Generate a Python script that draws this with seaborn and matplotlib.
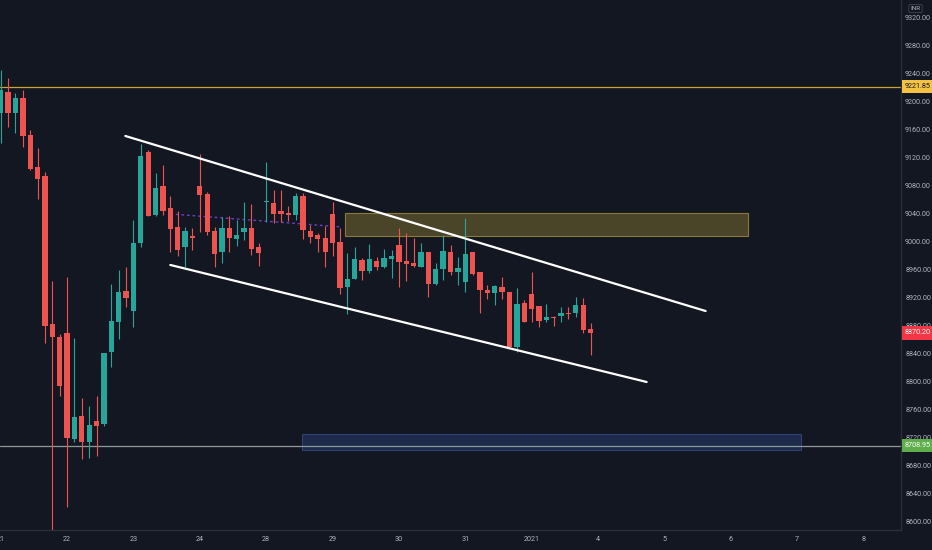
import numpy as np
import pandas as pd
import matplotlib
matplotlib.use("Agg")
import matplotlib.pyplot as plt
import matplotlib.transforms as mtransforms
from matplotlib.patches import Rectangle
import seaborn as sns

# ─────────────────────────────────────────────
# Data (45-min bars, 9 bars per session)
# ─────────────────────────────────────────────
opens = [9184.7, 9214.7, 9183.8, 9205.3, 9153.3, 9107.5, 9094.3, 8882.3, 8864.6,
         8869.5, 8718.0, 8751.3, 8714.6, 8743.7, 8739.4, 8843.2, 8886.0, 8929.9,
         8901.3, 8998.1, 9128.6, 9038.5, 9079.9, 9048.9, 9021.4, 8992.4, 9008.5,
         9080.4, 9068.5, 9015.6, 8985.6, 9019.9, 9004.2, 9014.2, 9019.9, 8992.4,
         9057.5, 9056.1, 9043.8, 9041.4, 9038.1, 9066.1, 9015.2, 9009.5, 9005.2,
         9040.0, 8999.5, 8935.2, 8947.5, 8974.6, 8958.5, 8972.8, 8964.7, 8975.2,
         8995.6, 8972.8, 8969.5, 8964.7, 8985.2, 8939.9, 8961.4, 8986.1, 8957.5,
         8942.3, 8985.2, 8956.6, 8931.3, 8926.6, 8936.0, 8928.9, 8849.4, 8912.3,
         8925.6, 8908.5, 8888.5, 8893.2, 8894.6, 8898.9, 8898.0, 8909.9, 8875.1]
highs = [9245.7, 9234.3, 9212.9, 9217.1, 9160.0, 9134.3, 9100.4, 8944.6, 8868.0,
         8949.5, 8863.2, 8777.4, 8766.0, 8779.9, 8841.3, 8939.5, 8959.9, 8963.8,
         9031.4, 9140.0, 9131.4, 9098.1, 9110.0, 9065.7, 9044.7, 9021.8, 9019.5,
         9125.7, 9071.8, 9021.8, 9036.1, 9037.1, 9031.4, 9057.5, 9054.2, 8998.1,
         9114.7, 9074.2, 9074.2, 9051.4, 9070.4, 9070.4, 9024.2, 9012.4, 9022.8,
         9057.5, 9019.5, 8983.8, 8993.2, 8976.6, 8996.6, 8978.0, 8989.5, 8988.5,
         9019.5, 9013.2, 9005.2, 8998.9, 8986.0, 8970.4, 9009.9, 8995.6, 8978.0,
         9034.2, 8986.0, 8957.0, 8938.5, 8938.5, 8950.3, 8929.0, 8933.8, 8917.0,
         8957.5, 8908.5, 8910.9, 8894.0, 8906.6, 8907.5, 8920.9, 8919.5, 8883.7]
lows = [9141.4, 9164.7, 9155.7, 9135.7, 9102.8, 9060.9, 8855.2, 8580.0, 8779.9,
        8620.8, 8714.6, 8689.4, 8691.7, 8694.6, 8737.0, 8820.9, 8861.3, 8907.5,
        8878.9, 8993.2, 9036.5, 9037.5, 9038.5, 8986.1, 8979.9, 8964.7, 8988.5,
        9014.7, 9009.9, 8963.8, 8969.5, 8986.1, 8994.2, 9002.8, 8981.4, 8966.1,
        9028.9, 9026.6, 9028.9, 9029.9, 9031.4, 9003.8, 8998.9, 8986.1, 8964.7,
        8979.9, 8925.6, 8897.0, 8947.0, 8945.6, 8955.2, 8959.9, 8962.3, 8948.9,
        8936.0, 8944.2, 8964.7, 8964.0, 8920.9, 8939.0, 8945.6, 8952.8, 8938.5,
        8928.9, 8952.8, 8898.9, 8918.5, 8909.9, 8918.5, 8850.0, 8843.2, 8885.0,
        8886.0, 8878.9, 8886.0, 8879.9, 8886.0, 8889.4, 8892.3, 8870.3, 8838.5]
closes = [9217.1, 9183.8, 9206.1, 9151.4, 9103.8, 9089.5, 8880.3, 8863.8, 8794.2,
          8719.4, 8749.4, 8714.6, 8738.4, 8737.4, 8840.9, 8887.0, 8928.0, 8919.5,
          8998.1, 9122.8, 9037.5, 9077.5, 9044.7, 9018.1, 8988.5, 9016.1, 9005.2,
          9067.5, 9014.2, 8982.8, 9019.5, 9006.1, 9010.4, 9019.9, 8989.5, 8984.6,
          9058.9, 9040.0, 9040.4, 9038.1, 9066.1, 9017.1, 9007.5, 9004.2, 8986.1,
          8999.0, 8933.8, 8947.1, 8976.1, 8958.9, 8975.2, 8963.8, 8977.5, 8980.4,
          8971.8, 8968.5, 8966.1, 8985.2, 8939.9, 8961.4, 8987.5, 8957.5, 8962.3,
          8982.4, 8954.2, 8931.3, 8926.6, 8937.5, 8928.9, 8850.3, 8911.3, 8885.2,
          8903.7, 8887.5, 8893.2, 8891.8, 8898.0, 8897.5, 8909.9, 8874.1, 8870.2]

session_labels = ["21", "22", "23", "24", "28", "29", "30", "31", "2021",
                  "4", "5", "6", "7", "8"]
bars_per_session = 9
price_ticks = list(range(8600, 9321, 40))

resistance_level = 9221.85
support_level = 8708.95
last_price = 8870.20

# drawings: (bar_start, bar_end, price_low, price_high)
supply_zone = (46.7, 101.4, 9008.5, 9041.4)
demand_zone = (40.8, 108.5, 8702.7, 8725.6)
upper_channel_x, upper_channel_y = [16.9, 95.6], [9151.4, 8901.3]
lower_channel_x, lower_channel_y = [23.0, 87.6], [8967.1, 8799.9]
dotted_x, dotted_y = [23.0, 46.3], [9040.0, 9021.4]

# ─────────────────────────────────────────────
# Style
# ─────────────────────────────────────────────
BG = "#131722"
TXT = "#b2b5be"
EDGE = "#2a2e39"
UP = "#26a69a"
DOWN = "#ef5350"
FS = 5.2

sns.set_theme(style="dark", rc={
    "axes.facecolor": BG, "figure.facecolor": BG,
    "axes.edgecolor": EDGE, "axes.grid": False,
})
plt.rcParams["font.family"] = ["Roboto", "DejaVu Sans"]

df = pd.DataFrame({"open": opens, "high": highs, "low": lows, "close": closes})
df["bar"] = np.arange(len(df))
df["up"] = df["close"] >= df["open"]
df["body_lo"] = df[["open", "close"]].min(axis=1)
df["body_h"] = (df["close"] - df["open"]).abs().clip(lower=1.4)
colors = np.where(df["up"], UP, DOWN)

fig = plt.figure(figsize=(9.32, 5.5), dpi=100)
ax = fig.add_axes([0, 20 / 550, 901 / 932, 530 / 550])

# zones
for (x0, x1, y0, y1), fc, ec in [(supply_zone, "#4a4428", "#8a7a35"),
                                 (demand_zone, "#1e2a4b", "#2f4272")]:
    ax.add_patch(Rectangle((x0, y0), x1 - x0, y1 - y0, facecolor=fc,
                           edgecolor=ec, lw=0.8, zorder=1))

ax.axhline(resistance_level, color="#c9a634", lw=0.9, zorder=1.5)
ax.axhline(support_level, color="#8d9a98", lw=0.9, zorder=1.5)

# candles
ax.vlines(df["bar"], df["low"], df["high"], colors=colors, lw=0.8, zorder=3)
ax.bar(df["bar"], df["body_h"], bottom=df["body_lo"], width=0.72,
       color=colors, linewidth=0, zorder=4)

# channel + dotted level
sns.lineplot(x=upper_channel_x, y=upper_channel_y, ax=ax, color="white", lw=1.6, zorder=5)
sns.lineplot(x=lower_channel_x, y=lower_channel_y, ax=ax, color="white", lw=1.6, zorder=5)
sns.lineplot(x=dotted_x, y=dotted_y, ax=ax, color="#6a3fc0", lw=1.0,
             linestyle=(0, (2, 2)), zorder=2)

# axes
ax.set_xlim(-0.1, 122.1)
ax.set_ylim(8588.4, 9345.7)
ax.set_xticks(np.arange(len(session_labels)) * bars_per_session)
ax.set_xticklabels(session_labels)
ax.yaxis.tick_right()
ax.set_yticks(price_ticks)
ax.set_yticklabels([f"{v:.2f}" for v in price_ticks])
ax.tick_params(axis="both", colors=TXT, labelsize=FS, length=0)
ax.tick_params(axis="y", pad=3)
ax.tick_params(axis="x", pad=4)
ax.set_xlabel("")
ax.set_ylabel("")
for s in ["top", "left"]:
    ax.spines[s].set_visible(False)
for s in ["right", "bottom"]:
    ax.spines[s].set_color(EDGE)
    ax.spines[s].set_linewidth(1)

# price labels on the scale
trans = mtransforms.blended_transform_factory(ax.transAxes, ax.transData)
for level, fc, tc in [(resistance_level, "#f5c342", BG),
                      (last_price, "#f23645", "white"),
                      (support_level, "#5fae4b", "white")]:
    ax.text(1 + 4 / 901, level, f"{level:.2f}", transform=trans, fontsize=FS,
            color=tc, ha="left", va="center", clip_on=False, zorder=10,
            bbox=dict(boxstyle="square,pad=0.45", fc=fc, ec="none"))

fig.text(915.5 / 932, 1 - 8.5 / 550, "INR", fontsize=4.6, color=TXT,
         ha="center", va="center",
         bbox=dict(boxstyle="round,pad=0.25", fc=BG, ec="#434651", lw=0.6))

fig.savefig("out.png", dpi=100, facecolor=BG)
